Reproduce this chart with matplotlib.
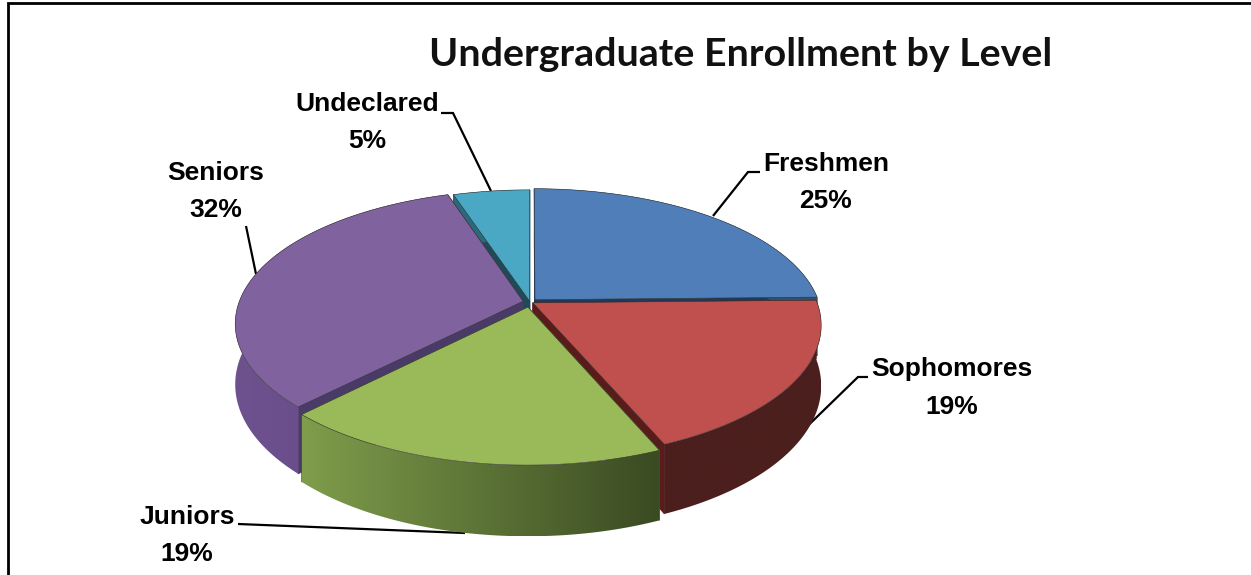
import numpy as np
import matplotlib
matplotlib.use('Agg')
import matplotlib.pyplot as plt
from matplotlib.colors import to_rgb
from matplotlib.patches import Polygon

title = 'Undergraduate Enrollment by Level'
labels = ['Freshmen', 'Sophomores', 'Juniors', 'Seniors', 'Undeclared']
shares = [24.51, 18.8, 18.51, 32.49, 5.0]
explode = [0.025, 0.012, 0.04, 0.025, 0.006]
top_colors = ['#4f7eb8', '#bf504d', '#9aba59', '#80629e', '#4aa8c4']
cut_colors = ['#1d3a5c', '#5a1c1a', '#46582a', '#4a3a68', '#1f4a58']
wall_left = ['#2f5070', '#4b1f1d', '#7f9d4b', '#6e5290', '#2a6a7c']
wall_right = ['#2f5070', '#4b1f1d', '#3a4a22', '#5f4680', '#2a6a7c']
draw_order = [0, 4, 3, 1, 2]

label_xy = [(826, 164), (952, 369), (187, 517), (216, 173), (367, 104)]
pct_y = [201, 407, 554, 210, 141]
leaders = [
    [(760, 172), (748, 172), (713, 216)],
    [(868, 377), (858, 377), (788, 445)],
    [(238, 524), (465, 533)],
    [(246, 226), (256, 274)],
    [(441, 113), (453, 113), (491, 191)],
]

# pie projection, pixels
cx, cy = 530, 302
rx, ry = 284, 130
persp = 0.165
depth = 59


def project(px, py, drop=0.0):
    w = 1 + persp * py
    return cx + rx * px / w, cy - ry * py / w + drop / w


def arc(ang, ox, oy, drop=0.0):
    return project(ox + np.sin(ang), oy + np.cos(ang), drop)


def fill(ax, xs, ys, color, z, edge=None, lw=0.6):
    ax.fill(xs, ys, facecolor=color, edgecolor=edge if edge else color, linewidth=lw, zorder=z)


def draw_slice(ax, a0, a1, off, top, cut, left, right, z):
    mid = (a0 + a1) / 2
    ox, oy = off * np.sin(mid), off * np.cos(mid)
    ang = np.linspace(a0, a1, 160)
    tx, ty = arc(ang, ox, oy)
    bx, by = arc(ang, ox, oy, depth)
    ax0, ay0 = project(ox, oy)
    ax1, ay1 = project(ox, oy, depth)

    # cut faces
    fill(ax, [ax0, tx[0], bx[0], ax1], [ay0, ty[0], by[0], ay1], cut, z)
    fill(ax, [ax0, tx[-1], bx[-1], ax1], [ay0, ty[-1], by[-1], ay1], cut, z)

    # outer wall, shaded left to right
    c0, c1 = np.array(to_rgb(left)), np.array(to_rgb(right))
    grad = np.linspace(0, 1, 256)[None, :, None] * (c1 - c0) + c0
    wall = Polygon(np.c_[np.r_[tx, bx[::-1]], np.r_[ty, by[::-1]]], closed=True, transform=ax.transData)
    im = ax.imshow(grad, extent=(tx.min(), tx.max(), by.max(), min(ty.min(), by.min())),
                   aspect='auto', zorder=z + 0.1, interpolation='bilinear')
    im.set_clip_path(wall)

    # top face
    fill(ax, np.r_[ax0, tx], np.r_[ay0, ty], top, z + 0.2, edge='#333333', lw=0.4)


fig = plt.figure(figsize=(12.51, 5.75), dpi=100)
ax = fig.add_axes([0, 0, 1, 1])
ax.set_xlim(0, 1251)
ax.set_ylim(575, 0)
ax.axis('off')

ends = np.cumsum(shares) / np.sum(shares) * 2 * np.pi
starts = np.r_[0, ends[:-1]]
for z, i in enumerate(draw_order):
    draw_slice(ax, starts[i], ends[i], explode[i], top_colors[i], cut_colors[i], wall_left[i], wall_right[i], z + 1)
ax.set_xlim(0, 1251)
ax.set_ylim(575, 0)

for pts in leaders:
    xs, ys = zip(*pts)
    ax.plot(xs, ys, color='black', lw=1.6, solid_joinstyle='miter', solid_capstyle='butt', zorder=0.5)

for name, share, (x, y), y2 in zip(labels, shares, label_xy, pct_y):
    ax.text(x, y, name, ha='center', va='center', fontsize=19, fontweight='bold', family='Liberation Sans', color='black', zorder=10)
    ax.text(x, y2, f'{round(share)}%', ha='center', va='center', fontsize=19, fontweight='bold', family='Liberation Sans', color='black', zorder=10)

ax.text(741, 55, title, ha='center', va='center', fontsize=28.4, fontweight='bold', family='Lato', color='#111111', zorder=10)

# chart frame, only left and top show
ax.plot([8, 8, 1251], [575, 3, 3], color='black', lw=2, solid_joinstyle='miter', zorder=10)

fig.savefig('out.png', dpi=100)
plt.close(fig)
